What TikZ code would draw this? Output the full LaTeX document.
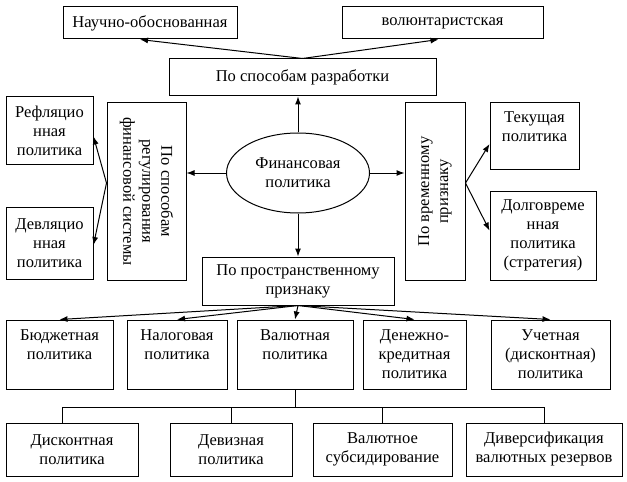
\documentclass[tikz,border=0pt]{standalone}
\usepackage{fontspec}
\setmainfont{Liberation Serif}
\usetikzlibrary{shapes.geometric,arrows.meta,calc}
\tikzset{
	box/.style={draw, line width=0.75pt, align=center, inner sep=1pt, font=\fontsize{12.4}{14.25}\selectfont},
	link/.style={line width=0.75pt, -{Latex[length=6pt,width=4.5pt]}}
}
\begin{document}
\begin{tikzpicture}[x=0.75pt,y=-0.75pt]
		\useasboundingbox (0,0) rectangle (627,481);
		\node[box, minimum width=130.5pt, minimum height=24pt] (nauch) at (150,23) {Научно-обоснованная};
		\node[box, minimum width=150.75pt, minimum height=24pt] (volunt) at (442.5,23) {волюнтаристская};
		\node[box, minimum width=200.25pt, minimum height=27.75pt] (razrab) at (302.5,77.5) {По способам разработки};

		\node[box, ellipse, minimum width=107.25pt, minimum height=60pt] (finpol) at (298,173) {Финансовая\\политика};
		\node[box, rotate=-90, minimum width=132.75pt, minimum height=59.25pt] (regul) at (146.5,191.5) {По способам\\регулирования\\финансовой системы};
		\node[box, rotate=90, minimum width=132.75pt, minimum height=45pt] (vremen) at (435,191.5) {По временному\\признаку};
		\node[box, minimum width=65.25pt, minimum height=50.25pt] (refl) at (49.5,130.5) {Рефляцио\\нная\\политика};
		\node[box, minimum width=65.25pt, minimum height=54pt] (devl) at (49.5,243) {Девляцио\\нная\\политика};
		\node[box, minimum width=66.75pt, minimum height=49.5pt] (tekush) at (534.5,136) {Текущая\\политика\\\mbox{}};
		\node[box, minimum width=79.5pt, minimum height=66.75pt] (dolgo) at (543,235.5) {Долговреме\\нная\\политика\\(стратегия)};
		\node[box, minimum width=144pt, minimum height=36pt] (prostr) at (298,281) {По пространственному\\признаку};

		\node[box, minimum width=80.25pt, minimum height=51.75pt] (budzh) at (59.5,354.5) {Бюджетная\\политика\\\mbox{}};
		\node[box, minimum width=75pt, minimum height=51.75pt] (nalog) at (177,354.5) {Налоговая\\политика\\\mbox{}};
		\node[box, minimum width=87pt, minimum height=51.75pt] (valut) at (295,354.5) {Валютная\\политика\\\mbox{}};
		\node[box, minimum width=77.25pt, minimum height=51.75pt] (denezh) at (414.5,354.5) {Денежно-\\кредитная\\политика};
		\node[box, minimum width=89.25pt, minimum height=51.75pt] (uchet) at (550.5,354.5) {Учетная\\(дисконтная)\\политика};

		\node[box, minimum width=99pt, minimum height=39.75pt] (diskont) at (72,449.5) {Дисконтная\\политика};
		\node[box, minimum width=91.5pt, minimum height=39.75pt] (deviz) at (231,449.5) {Девизная\\политика};
		\node[box, minimum width=104.25pt, minimum height=39.75pt] (subsid) at (382.5,449.5) {Валютное\\субсидирование};
		\node[box, minimum width=117pt, minimum height=39.75pt] (divers) at (544,449.5) {Диверсификация\\валютных резервов};

		\draw[link] (razrab.north) -- ($(nauch.south)+(-10,0)$);
		\draw[link] (razrab.north) -- ($(volunt.south)+(-4,0)$);
		\draw[link] (finpol.north) -- (finpol.north |- razrab.south);
		\draw[link] (finpol.south) -- (finpol.south |- prostr.north);
		\draw[link] (finpol.west) -- (finpol.west -| regul.north);
		\draw[link] (finpol.east) -- (finpol.east -| vremen.north);

		\coordinate (rj) at ($(regul.south)+(0,-8.5)$);
		\draw[link] (rj) -- ($(refl.east)+(0,6)$);
		\draw[link] (rj) -- ($(devl.east)+(0,2)$);
		\coordinate (vj) at ($(vremen.south)+(0,-8.5)$);
		\draw[link] (vj) -- ($(tekush.west)+(0,8)$);
		\draw[link] (vj) -- ($(dolgo.west)+(0,-5)$);

		\foreach \n in {budzh,nalog,valut,denezh,uchet}
			\draw[link] (prostr.south) -- (\n.north);
		\coordinate (bus) at ($(valut.south)+(0,18)$);
		\draw[line width=0.75pt] (valut.south) -- (bus);
		\draw[line width=0.75pt] ($(diskont.north)+(-10,0)$) |- (bus);
		\foreach \n in {deviz,subsid,divers}
			\draw[line width=0.75pt] (\n.north) |- (bus);
\end{tikzpicture}
\end{document}
